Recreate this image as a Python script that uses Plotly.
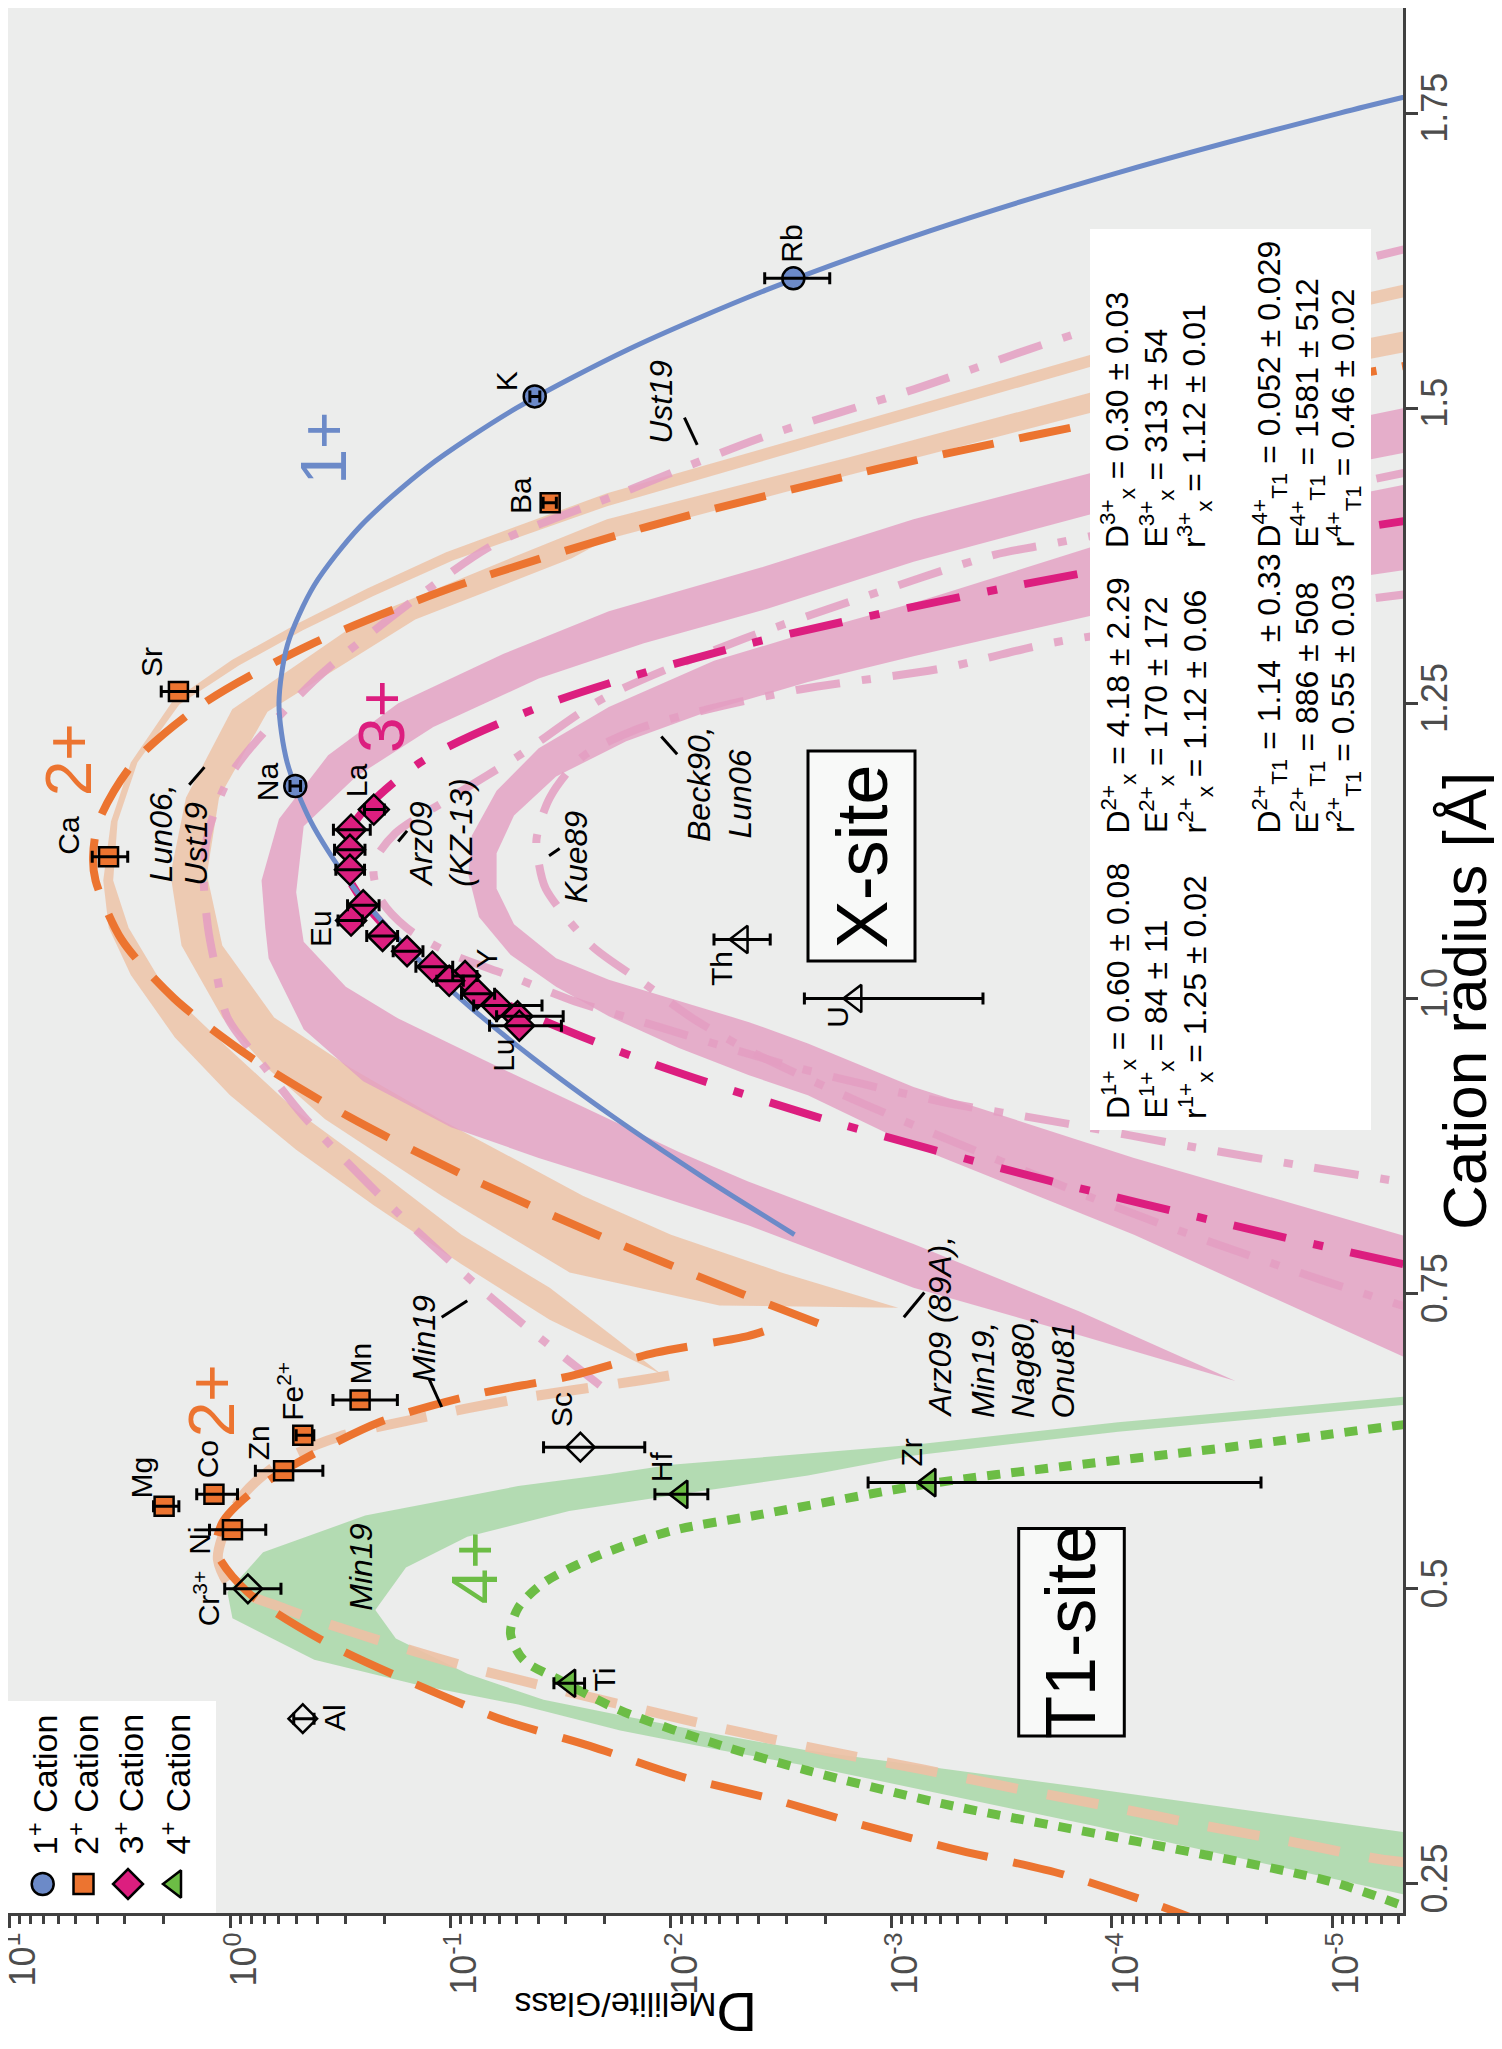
import plotly.graph_objects as go

# ============================ DATA ============================
# y: cation radius (Angstrom); x: log10 of D(Melilite/Glass)

# ---- 1+ cations ----
c1_name = ["Na", "K", "Rb"]
c1_r = [1.18, 1.51, 1.61]
c1_logD = [-0.296, -1.382, -2.555]
c1_lo = [-0.32, -1.405, -2.72]
c1_hi = [-0.272, -1.36, -2.425]

# ---- 2+ cations ----
c2_name = ["Ca", "Sr", "Ba", "Mg", "Co", "Ni", "Zn", "Fe2+", "Mn"]
c2_r = [1.12, 1.26, 1.42, 0.57, 0.58, 0.55, 0.60, 0.63, 0.66]
c2_logD = [0.551, 0.234, -1.452, 0.299, 0.073, -0.011, -0.243, -0.330, -0.590]
c2_lo = [0.464, 0.147, -1.48, 0.232, -0.034, -0.162, -0.421, -0.38, -0.759]
c2_hi = [0.625, 0.312, -1.42, 0.347, 0.151, 0.093, -0.115, -0.30, -0.467]

# ---- 3+ cations (REE, Y) ----
c3_name = ["La", "Ce", "Pr", "Nd", "Sm", "Eu", "Gd", "Tb", "Dy", "Y", "Ho", "Er", "Tm", "Yb", "Lu"]
c3_r = [1.160, 1.143, 1.126, 1.109, 1.079, 1.066, 1.053, 1.040, 1.027, 1.019, 1.015, 1.004, 0.994, 0.985, 0.977]
c3_logD = [-0.652, -0.549, -0.544, -0.544, -0.604, -0.549, -0.692, -0.803, -0.918, -1.066, -0.994, -1.121, -1.209, -1.304, -1.312]
c3_lo = [-0.70, -0.636, -0.612, -0.61, -0.676, -0.60, -0.76, -0.875, -1.01, -1.12, -1.058, -1.20, -1.415, -1.511, -1.503]
c3_hi = [-0.61, -0.469, -0.474, -0.48, -0.533, -0.49, -0.62, -0.74, -0.843, -1.01, -0.938, -1.05, -1.105, -1.209, -1.177]

# ---- open diamonds (3+ not fitted) ----
o3_name = ["Cr3+", "Al", "Sc"]
o3_r = [0.50, 0.39, 0.62]
o3_logD = [-0.081, -0.330, -1.589]
o3_lo = [-0.231, -0.381, -1.881]
o3_hi = [0.024, -0.289, -1.422]

# ---- 4+ cations ----
c4_name = ["Ti", "Hf", "Zr"]
c4_r = [0.42, 0.58, 0.59]
c4_logD = [-1.538, -2.047, -3.172]
c4_lo = [-1.608, -2.167, -4.676]
c4_hi = [-1.469, -1.927, -2.894]

# ---- open triangles (4+ not fitted) ----
o4_name = ["Th", "U"]
o4_r = [1.05, 1.00]
o4_logD = [-2.32, -2.836]
o4_lo = [-2.45, -3.415]
o4_hi = [-2.195, -2.605]

# ---- fitted lattice-strain curves ----
fit1_r = [0.80, 0.85, 0.90, 0.95, 1.00, 1.05, 1.10, 1.15, 1.20, 1.25, 1.30, 1.35, 1.40, 1.45, 1.50, 1.55, 1.60, 1.65, 1.70, 1.75, 1.77]
fit1_logD = [-2.560, -2.134, -1.736, -1.371, -1.045, -0.765, -0.536, -0.366, -0.259, -0.222, -0.261, -0.382, -0.591, -0.894, -1.298, -1.808, -2.430, -3.171, -4.037, -5.033, -5.47]

fit2x_r = [0.725, 0.75, 0.80, 0.85, 0.90, 0.95, 1.00, 1.05, 1.10, 1.12, 1.15, 1.20, 1.25, 1.30, 1.35, 1.40, 1.45, 1.50, 1.54]
fit2x_logD = [-2.667, -2.320, -1.663, -1.065, -0.538, -0.095, 0.253, 0.492, 0.610, 0.621, 0.596, 0.436, 0.120, -0.367, -1.036, -1.899, -2.969, -4.257, -5.455]

fit3_r = [0.775, 0.80, 0.85, 0.90, 0.95, 1.00, 1.05, 1.10, 1.12, 1.15, 1.20, 1.25, 1.30, 1.35, 1.38, 1.41]
fit3_logD = [-5.321, -4.728, -3.626, -2.656, -1.840, -1.201, -0.761, -0.543, -0.523, -0.569, -0.863, -1.447, -2.343, -3.574, -4.483, -5.525]

fit2t_r = [0.215, 0.2325, 0.258, 0.280, 0.300, 0.322, 0.341, 0.367, 0.389, 0.419, 0.453, 0.497, 0.532, 0.556, 0.579, 0.605, 0.6415, 0.664, 0.680, 0.700, 0.714, 0.72]
fit2t_logD = [-4.45, -4.20, -3.781, -3.274, -2.866, -2.459, -2.047, -1.631, -1.237, -0.844, -0.451, -0.081, 0.062, 0.035, -0.081, -0.289, -0.682, -1.099, -1.538, -1.931, -2.348, -2.45]

fit4_r = [0.226, 0.252, 0.286, 0.318, 0.346, 0.367, 0.397, 0.423, 0.440, 0.462, 0.484, 0.505, 0.527, 0.549, 0.563, 0.589, 0.604, 0.619, 0.641]
fit4_logD = [-5.40, -4.993, -4.112, -3.231, -2.621, -2.232, -1.770, -1.492, -1.330, -1.272, -1.307, -1.422, -1.654, -2.001, -2.408, -3.172, -3.796, -4.49, -5.40]

# ---- literature curves / envelopes ----
min19t_r = [0.267, 0.271, 0.286, 0.300, 0.316, 0.331, 0.347, 0.362, 0.379, 0.397, 0.434, 0.460, 0.483, 0.503, 0.525, 0.544, 0.579, 0.609, 0.629, 0.644, 0.661, 0.676, 0.681]
min19t_logD = [-5.40, -5.214, -4.806, -4.399, -3.98, -3.561, -3.142, -2.724, -2.302, -1.885, -1.076, -0.613, -0.25, 0.0, 0.055, 0.035, -0.057, -0.243, -0.497, -0.844, -1.307, -1.839, -2.0]

ust19_3_r = [1.638, 1.566, 1.516, 1.475, 1.427, 1.385, 1.339, 1.269, 1.192, 1.14, 1.105, 1.06, 1.03, 0.984, 0.941, 0.900, 0.820, 0.751, 0.717, 0.669]
ust19_3_logD = [-5.40, -3.889, -3.102, -2.408, -1.760, -1.2, -0.844, -0.381, -0.011, 0.10, 0.12, 0.10, 0.07, 0.012, -0.161, -0.335, -0.752, -1.157, -1.376, -1.700]

kz13_r = [1.448, 1.386, 1.376, 1.337, 1.302, 1.255, 1.205, 1.170, 1.140, 1.114, 1.085, 1.060, 1.038, 1.019, 0.999, 0.976, 0.941, 0.913, 0.894, 0.874, 0.857, 0.842]
kz13_logD = [-5.40, -3.75, -3.47, -2.825, -2.292, -1.70, -1.304, -1.0, -0.75, -0.652, -0.68, -0.80, -1.0, -1.272, -1.543, -1.945, -2.58, -3.218, -3.796, -4.375, -4.907, -5.40]

kue89_r = [1.344, 1.302, 1.280, 1.262, 1.243, 1.228, 1.205, 1.17, 1.135, 1.115, 1.093, 1.045, 1.013, 0.983, 0.956, 0.911, 0.831, 0.794, 0.760, 0.735]
kue89_logD = [-5.40, -3.75, -3.24, -2.59, -2.124, -1.845, -1.60, -1.45, -1.39, -1.40, -1.432, -1.638, -1.877, -2.10, -2.354, -2.871, -3.912, -4.444, -4.976, -5.40]

# peach envelope "Lun06" (outer edge then inner edge)
lun06_out_logD = [-5.40, -3.90, -2.80, -1.71, -0.98, -0.62, -0.30, -0.01, 0.26, 0.45, 0.54, 0.575, 0.55, 0.45, 0.25, 0.00, -0.30, -0.65, -1.05, -1.45, -1.955]
lun06_out_r = [1.608, 1.545, 1.486, 1.428, 1.378, 1.347, 1.317, 1.287, 1.252, 1.20, 1.15, 1.10, 1.06, 1.02, 0.967, 0.918, 0.872, 0.825, 0.775, 0.728, 0.682]
lun06_in_logD = [-1.955, -1.75, -1.45, -1.05, -0.70, -0.30, 0.02, 0.30, 0.46, 0.53, 0.51, 0.42, 0.23, -0.04, -0.33, -0.65, -1.01, -1.71, -2.80, -3.90, -5.40]
lun06_in_r = [0.682, 0.712, 0.755, 0.80, 0.85, 0.905, 0.96, 1.01, 1.06, 1.10, 1.15, 1.20, 1.249, 1.282, 1.312, 1.341, 1.371, 1.417, 1.476, 1.535, 1.597]

# peach envelope "Ust19"
ust19_out_logD = [-5.40, -3.90, -2.80, -1.71, -1.30, -0.61, -0.01, 0.20, 0.27, 0.22, 0.035, -0.17, -0.43, -0.96, -1.54, -2.22]
ust19_out_r = [1.568, 1.513, 1.458, 1.406, 1.375, 1.322, 1.245, 1.17, 1.105, 1.045, 0.984, 0.941, 0.898, 0.833, 0.768, 0.740]
ust19_in_logD = [-3.03, -2.50, -2.0, -1.60, -0.95, -0.55, -0.20, 0.035, 0.105, 0.05, -0.17, -0.84, -1.55, -1.71, -2.80, -3.90, -5.40]
ust19_in_r = [0.738, 0.768, 0.80, 0.833, 0.898, 0.941, 0.984, 1.045, 1.105, 1.17, 1.243, 1.321, 1.373, 1.389, 1.443, 1.496, 1.550]

# pink envelope "Arz09 (89A), Min19, Nag80, Onu81"
p89_out_logD = [-5.40, -3.90, -3.10, -2.408, -1.718, -1.241, -0.763, -0.445, -0.222, -0.143, -0.16, -0.175, -0.334, -0.604, -1.002, -1.40, -1.74, -2.35, -3.10, -3.85, -4.56]
p89_out_r = [1.503, 1.445, 1.406, 1.365, 1.328, 1.292, 1.250, 1.206, 1.152, 1.10, 1.06, 1.034, 0.974, 0.930, 0.891, 0.865, 0.845, 0.808, 0.755, 0.715, 0.676]
p89_in_logD = [-4.56, -3.85, -3.10, -2.35, -2.036, -1.559, -1.161, -0.763, -0.525, -0.334, -0.30, -0.334, -0.572, -0.922, -1.40, -1.877, -2.434, -3.10, -3.90, -5.40]
p89_in_r = [0.676, 0.735, 0.792, 0.845, 0.870, 0.912, 0.947, 0.983, 1.010, 1.048, 1.09, 1.146, 1.188, 1.230, 1.271, 1.301, 1.330, 1.370, 1.410, 1.465]

# pink envelope "Beck90, Lun06"
pbl_out_logD = [-5.40, -3.90, -3.10, -2.621, -2.195, -1.718, -1.40, -1.209, -1.097, -1.081, -1.129, -1.272, -1.479, -1.718, -2.036, -2.354, -2.621, -3.10, -4.10, -5.40]
pbl_out_r = [1.438, 1.382, 1.335, 1.310, 1.286, 1.247, 1.212, 1.176, 1.138, 1.105, 1.069, 1.037, 1.010, 0.985, 0.958, 0.935, 0.918, 0.875, 0.800, 0.690]
pbl_in_logD = [-5.40, -4.10, -3.10, -2.621, -2.354, -2.036, -1.718, -1.479, -1.288, -1.209, -1.209, -1.288, -1.479, -1.797, -2.195, -2.621, -3.10, -3.90, -5.40]
pbl_in_r = [0.795, 0.865, 0.925, 0.962, 0.980, 0.998, 1.016, 1.034, 1.063, 1.093, 1.123, 1.155, 1.188, 1.218, 1.245, 1.268, 1.290, 1.324, 1.365]

# green envelope "Min19" (T1, 4+)
g19_out_logD = [-5.40, -4.028, -3.102, -2.001, -1.714, -1.307, -0.613, -0.150, 0.012, -0.011, -0.382, -0.844, -1.307, -1.770, -2.232, -2.621, -3.90, -5.40]
g19_out_r = [0.664, 0.641, 0.622, 0.605, 0.597, 0.587, 0.562, 0.531, 0.497, 0.475, 0.440, 0.419, 0.402, 0.380, 0.363, 0.350, 0.300, 0.238]
g19_in_logD = [-5.40, -3.90, -2.621, -2.232, -1.770, -1.422, -1.076, -0.752, -0.659, -0.798, -1.076, -1.538, -2.001, -2.621, -3.102, -4.028, -5.40]
g19_in_r = [0.292, 0.331, 0.363, 0.376, 0.393, 0.406, 0.428, 0.458, 0.482, 0.518, 0.544, 0.566, 0.579, 0.596, 0.613, 0.633, 0.657]

# axis ticks
x_tick_exp = [1, 0, -1, -2, -3, -4, -5]
y_tick_vals = [0.25, 0.5, 0.75, 1.0, 1.25, 1.5, 1.75]
y_tick_text = ["0.25", "0.5", "0.75", "1.0", "1.25", "1.5", "1.75"]

# fit parameters shown in the box
stat_x_lines = [
    ["D<sup>1+</sup><sub>x</sub> = 0.60 ± 0.08", "E<sup>1+</sup><sub>x</sub> = 84 ± 11", "r<sup>1+</sup><sub>x</sub> = 1.25 ± 0.02"],
    ["D<sup>2+</sup><sub>x</sub> = 4.18 ± 2.29", "E<sup>2+</sup><sub>x</sub> = 170 ± 172", "r<sup>2+</sup><sub>x</sub> = 1.12 ± 0.06"],
    ["D<sup>3+</sup><sub>x</sub> = 0.30 ± 0.03", "E<sup>3+</sup><sub>x</sub> = 313 ± 54", "r<sup>3+</sup><sub>x</sub> = 1.12 ± 0.01"],
]
stat_t_lines = [
    ["D<sup>2+</sup><sub>T1</sub> = 1.14  ± 0.33", "E<sup>2+</sup><sub>T1</sub> = 886 ± 508", "r<sup>2+</sup><sub>T1</sub> = 0.55 ± 0.03"],
    ["D<sup>4+</sup><sub>T1</sub> = 0.052 ± 0.029", "E<sup>4+</sup><sub>T1</sub> = 1581 ± 512", "r<sup>4+</sup><sub>T1</sub> = 0.46 ± 0.02"],
]

# ============================ STYLE ============================
FONT = "Liberation Sans, Arial, sans-serif"
BG = "#ECEDEC"
ORANGE = "#EC7430"
MAGENTA = "#DC1E7F"
BLUE = "#6C8AC8"
GREEN = "#6CBD45"
PEACH_F = "rgba(237,192,164,0.80)"
PINK_F = "rgba(228,158,194,0.80)"
GREEN_F = "rgba(165,214,164,0.80)"
LPINK = "rgba(228,158,194,0.85)"
LPEACH = "rgba(237,192,164,0.90)"

PW, PH = 1395.0, 1905.0  # plot area size in px


def tD(v):
    return [10 ** a for a in v]


fig = go.Figure()


def band(out_l, out_r, in_l, in_r, color):
    fig.add_trace(go.Scatter(x=tD(out_l + in_l), y=out_r + in_r, mode="lines", fill="toself",
                             fillcolor=color, line=dict(width=0), hoverinfo="skip", showlegend=False))


def line(lg, r, color, width, dash="solid"):
    fig.add_trace(go.Scatter(x=tD(lg), y=r, mode="lines",
                             line=dict(color=color, width=width, dash=dash, shape="spline", smoothing=0.8),
                             hoverinfo="skip", showlegend=False))


# envelopes
band(lun06_out_logD, lun06_out_r, lun06_in_logD, lun06_in_r, PEACH_F)
band(ust19_out_logD, ust19_out_r, ust19_in_logD, ust19_in_r, PEACH_F)
band(p89_out_logD, p89_out_r, p89_in_logD, p89_in_r, PINK_F)
band(pbl_out_logD, pbl_out_r, pbl_in_logD, pbl_in_r, PINK_F)
band(g19_out_logD, g19_out_r, g19_in_logD, g19_in_r, GREEN_F)

# literature lines
line(min19t_logD, min19t_r, LPEACH, 10, "52px,30px")
line(ust19_3_logD, ust19_3_r, LPINK, 8, "45px,22px,9px,22px")
line(kz13_logD, kz13_r, LPINK, 8, "45px,22px,9px,22px")
line(kue89_logD, kue89_r, LPINK, 8, "45px,22px,9px,22px")

# fitted curves
line(fit2x_logD, fit2x_r, ORANGE, 8, "52px,26px")
line(fit2t_logD, fit2t_r, ORANGE, 8, "52px,26px")
line(fit3_logD, fit3_r, MAGENTA, 8, "54px,28px,10px,28px")
line(fit4_logD, fit4_r, GREEN, 9, "13px,11px")
line(fit1_logD, fit1_r, BLUE, 5)

# leader lines for reference labels
leaders = [
    ((0.185, 1.181), (0.116, 1.196)),
    ((-2.061, 1.492), (-2.119, 1.469)),
    ((-0.763, 1.133), (-0.803, 1.142)),
    ((-1.447, 1.121), (-1.495, 1.127)),
    ((-1.956, 1.222), (-2.028, 1.207)),
    ((-3.056, 0.730), (-3.149, 0.751)),
    ((-0.960, 0.730), (-1.076, 0.744)),
    ((-0.902, 0.678), (-0.960, 0.654)),
]
for a, b in leaders:
    fig.add_trace(go.Scatter(x=tD([a[0], b[0]]), y=[a[1], b[1]], mode="lines",
                             line=dict(color="black", width=3), hoverinfo="skip", showlegend=False))


def points(lg, r, lo, hi, symbol, fill, size):
    D = tD(lg)
    plus = [10 ** h - d for h, d in zip(hi, D)]
    minus = [d - 10 ** l for l, d in zip(lo, D)]
    fig.add_trace(go.Scatter(x=D, y=r, mode="markers",
                             marker=dict(symbol=symbol, size=size, color=fill, line=dict(color="black", width=2.5)),
                             hoverinfo="skip", showlegend=False))
    fig.add_trace(go.Scatter(x=D, y=r, mode="markers", marker=dict(size=1, opacity=0),
                             error_x=dict(type="data", symmetric=False, array=plus, arrayminus=minus,
                                          color="black", thickness=3, width=6),
                             hoverinfo="skip", showlegend=False))


points(o3_logD, o3_r, o3_lo, o3_hi, "diamond", "rgba(0,0,0,0)", 22)
points(o4_logD, o4_r, o4_lo, o4_hi, "triangle-left", "rgba(0,0,0,0)", 24)
points(c2_logD, c2_r, c2_lo, c2_hi, "square", ORANGE, 19)
points(c1_logD, c1_r, c1_lo, c1_hi, "circle", BLUE, 22)
points(c3_logD, c3_r, c3_lo, c3_hi, "diamond", MAGENTA, 23)
points(c4_logD, c4_r, c4_lo, c4_hi, "triangle-left", GREEN, 24)

# legend markers (overlay axes in plot-fraction units)
leg_x = [34.7 / PW, 75.5 / PW, 120 / PW, 167 / PW]
leg_sym = ["circle", "square", "diamond", "triangle-left"]
leg_col = [BLUE, ORANGE, MAGENTA, GREEN]
leg_size = [22, 20, 23, 24]
leg_txt = ["1<sup>+</sup> Cation", "2<sup>+</sup> Cation", "3<sup>+</sup> Cation", "4<sup>+</sup> Cation"]
for i in range(4):
    fig.add_trace(go.Scatter(x=[leg_x[i]], y=[1 - 1876 / PH], xaxis="x2", yaxis="y2", mode="markers",
                             marker=dict(symbol=leg_sym[i], size=leg_size[i], color=leg_col[i],
                                         line=dict(color="black", width=2.5)),
                             hoverinfo="skip", showlegend=False))

# ============================ ANNOTATIONS ============================
ann = []


def txt(lg, r, s, size=28, color="black", italic=False, xanchor="center", yanchor="middle", ref="data"):
    t = "<i>" + s + "</i>" if italic else s
    d = dict(text=t, showarrow=False, textangle=-90, font=dict(family=FONT, size=size, color=color),
             xanchor=xanchor, yanchor=yanchor)
    if ref == "data":
        d.update(x=lg, y=r, xref="x", yref="y")
    else:
        d.update(x=lg, y=r, xref="paper", yref="paper")
    ann.append(d)


# element labels
elem_labels = [
    ("Rb", -2.547, 1.639), ("K", -1.252, 1.523), ("Na", -0.167, 1.184), ("Ba", -1.317, 1.426),
    ("Sr", 0.359, 1.285), ("Ca", 0.734, 1.138), ("La", -0.572, 1.185), ("Eu", -0.413, 1.059),
    ("Lu", -1.241, 0.952), ("Y", -1.161, 1.034), ("Th", -2.227, 1.025), ("U", -2.755, 0.985),
    ("Mg", 0.401, 0.594), ("Co", 0.098, 0.610), ("Ni", 0.139, 0.541), ("Zn", -0.131, 0.624),
    ("Fe<sup>2+</sup>", -0.273, 0.667), ("Mn", -0.590, 0.691), ("Cr<sup>3+</sup>", 0.104, 0.492),
    ("Al", -0.474, 0.391), ("Sc", -1.504, 0.652), ("Ti", -1.700, 0.423), ("Hf", -1.955, 0.603),
    ("Zr", -3.091, 0.615),
]
for s, lg, r in elem_labels:
    txt(lg, r, s, size=30)

# charge labels
txt(-0.427, 1.466, "1+", 64, BLUE)
txt(0.729, 1.202, "2+", 64, ORANGE)
txt(-0.692, 1.239, "3+", 64, MAGENTA)
txt(0.081, 0.659, "2+", 64, ORANGE)
txt(-1.11, 0.518, "4+", 64, GREEN)

# reference labels
txt(0.313, 1.140, "Lun06,", 32, italic=True)
txt(0.155, 1.131, "Ust19", 32, italic=True)
txt(-1.957, 1.505, "Ust19", 32, italic=True)
txt(-0.867, 1.131, "Arz09", 32, italic=True)
txt(-1.05, 1.140, "(KZ-13)", 32, italic=True)
txt(-1.567, 1.120, "Kue89", 32, italic=True)
txt(-2.124, 1.182, "Beck90,", 32, italic=True)
txt(-2.314, 1.173, "Lun06", 32, italic=True)
txt(-0.879, 0.712, "Min19", 32, italic=True)
txt(-0.590, 0.518, "Min19", 32, italic=True)
for s, lg in [("Arz09 (89A),", -3.218), ("Min19,", -3.415), ("Nag80,", -3.60), ("Onu81", -3.78)]:
    txt(lg, 0.643, s, 32, italic=True, yanchor="bottom")

# site boxes text
txt(0.6118, 0.5549, "X-site", 72, ref="paper")
txt(0.7624, 0.1474, "T1-site", 70, ref="paper")

# statistics text
sx = [1110 / PW, 1148 / PW, 1187 / PW]
st = [1261 / PW, 1299 / PW, 1335 / PW]
ybot = [1 - 1113 / PH, 1 - 827.5 / PH, 1 - 542 / PH]
for g in range(3):
    for j in range(3):
        txt(sx[j], ybot[g], stat_x_lines[g][j], 32, yanchor="bottom", ref="paper")
for g in range(2):
    for j in range(3):
        txt(st[j], ybot[g + 1], stat_t_lines[g][j], 32, yanchor="bottom", ref="paper")

# legend text
for i in range(4):
    txt(leg_x[i], 1 - 1849 / PH, leg_txt[i], 34, yanchor="bottom", ref="paper")

# axis titles
ann.append(dict(text="Cation radius [Å]", x=1456 / PW, y=1 - 993 / PH, xref="paper", yref="paper",
                showarrow=False, textangle=-90, font=dict(family=FONT, size=62, color="black"),
                xanchor="center", yanchor="middle"))
ann.append(dict(text="D<span style='font-size:34px'>Melilite/Glass</span>", x=628 / PW, y=1 - 2005 / PH,
                xref="paper", yref="paper", showarrow=False, textangle=180,
                font=dict(family=FONT, size=56, color="black"), xanchor="center", yanchor="middle"))

# ============================ SHAPES ============================
shapes = [
    dict(type="rect", xref="paper", yref="paper", x0=0, x1=208 / PW, y0=0, y1=1 - 1693 / PH,
         fillcolor="white", line=dict(width=0), layer="below"),
    dict(type="rect", xref="paper", yref="paper", x0=1082 / PW, x1=1363 / PW, y0=1 - 1122 / PH, y1=1 - 221 / PH,
         fillcolor="white", line=dict(width=0), layer="above"),
    dict(type="rect", xref="paper", yref="paper", x0=800 / PW, x1=907 / PW, y0=1 - 953 / PH, y1=1 - 743 / PH,
         fillcolor="#F8F9F8", line=dict(color="black", width=3), layer="above"),
    dict(type="rect", xref="paper", yref="paper", x0=1010.7 / PW, x1=1116.3 / PW, y0=1 - 1728 / PH, y1=1 - 1520.4 / PH,
         fillcolor="#F8F9F8", line=dict(color="black", width=3), layer="above"),
]

minor_vals = [m * 10 ** e for e in range(-6, 1) for m in range(2, 10)]

fig.update_layout(
    width=1502, height=2049,
    margin=dict(l=0, r=107, t=0, b=144, autoexpand=False),
    paper_bgcolor="white", plot_bgcolor=BG,
    showlegend=False,
    annotations=ann, shapes=shapes,
    font=dict(family=FONT),
    xaxis=dict(type="log", range=[1.007, -5.32], showgrid=False, zeroline=False, automargin=False,
               tickvals=[10 ** e for e in x_tick_exp],
               ticktext=["10<sup>%d</sup>" % e for e in x_tick_exp],
               tickangle=-90, ticks="outside", ticklen=12, tickwidth=3, tickcolor="#404040",
               tickfont=dict(family=FONT, size=36, color="#4D4D4D"),
               ticklabeloverflow="allow", ticklabelstandoff=-10, ticklabelshift=-14,
               showline=True, linecolor="#404040", linewidth=3,
               minor=dict(tickvals=minor_vals, ticks="outside", ticklen=8, tickwidth=3, tickcolor="#404040")),
    yaxis=dict(range=[0.2254, 1.839], side="right", showgrid=False, zeroline=False, automargin=False,
               tickvals=y_tick_vals, ticktext=y_tick_text, tickangle=-90,
               ticks="outside", ticklen=12, tickwidth=3, tickcolor="#404040",
               tickfont=dict(family=FONT, size=36, color="#4D4D4D"),
               ticklabelstandoff=-14,
               showline=True, linecolor="#404040", linewidth=3),
    xaxis2=dict(overlaying="x", range=[0, 1], visible=False, anchor="y2"),
    yaxis2=dict(overlaying="y", range=[0, 1], visible=False, anchor="x2"),
)

fig.write_html("out.html")
